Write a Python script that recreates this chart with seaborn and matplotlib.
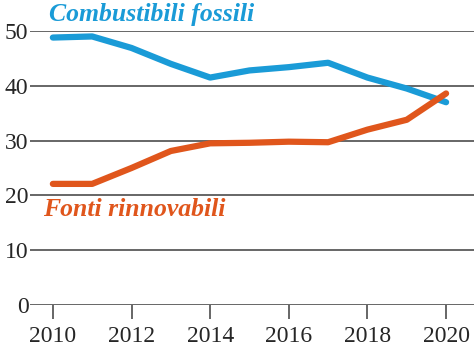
import pandas as pd
import matplotlib.pyplot as plt
import seaborn as sns

# Dati
anni = [2010, 2011, 2012, 2013, 2014, 2015, 2016, 2017, 2018, 2019, 2020]
fossili = [48.8, 49.0, 46.9, 44.0, 41.5, 42.8, 43.4, 44.2, 41.5, 39.5, 37.0]
rinnovabili = [22.1, 22.1, 25.0, 28.1, 29.5, 29.6, 29.8, 29.7, 32.0, 33.8, 38.6]

etichetta_fossili = "Combustibili fossili"
etichetta_rinnovabili = "Fonti rinnovabili"
colore_fossili = "#1a9bd7"
colore_rinnovabili = "#e0561c"

df = pd.DataFrame({"anno": anni * 2,
                   "valore": fossili + rinnovabili,
                   "serie": [etichetta_fossili] * len(anni) + [etichetta_rinnovabili] * len(anni)})

sns.set_style("white")
plt.rcParams['font.family'] = ['Liberation Serif', 'DejaVu Serif']

fig = plt.figure(figsize=(4.74, 3.52), dpi=100)
ax = fig.add_axes([0.063, 0.1335, 0.937, 0.7785])

# griglia orizzontale
for y in [0, 10, 20, 30, 40, 50]:
    ax.axhline(y, color="#5a5a5a", lw=1.3, zorder=1)

sns.lineplot(data=df, x="anno", y="valore", hue="serie",
             palette={etichetta_fossili: colore_fossili, etichetta_rinnovabili: colore_rinnovabili},
             lw=4.5, legend=False, ax=ax, zorder=3)

ax.set_xlim(2009.415, 2020.71)
ax.set_ylim(0, 50)
ax.set_xticks([2010, 2012, 2014, 2016, 2018, 2020])
ax.set_yticks([0, 10, 20, 30, 40, 50])
ax.set_xlabel("")
ax.set_ylabel("")
ax.tick_params(axis="x", length=10, width=1.3, color="#5a5a5a", labelsize=17, pad=5, direction="out", bottom=True)
ax.tick_params(axis="y", length=0, labelsize=17, pad=1)
for s in ax.spines.values():
    s.set_visible(False)

ax.text(2009.9, 53.0, etichetta_fossili, color=colore_fossili, fontsize=18.5,
        fontweight="bold", fontstyle="italic", va="center", clip_on=False)
ax.text(2009.75, 17.4, etichetta_rinnovabili, color=colore_rinnovabili, fontsize=18.5,
        fontweight="bold", fontstyle="italic", va="center")

fig.savefig("out.png", dpi=100)
